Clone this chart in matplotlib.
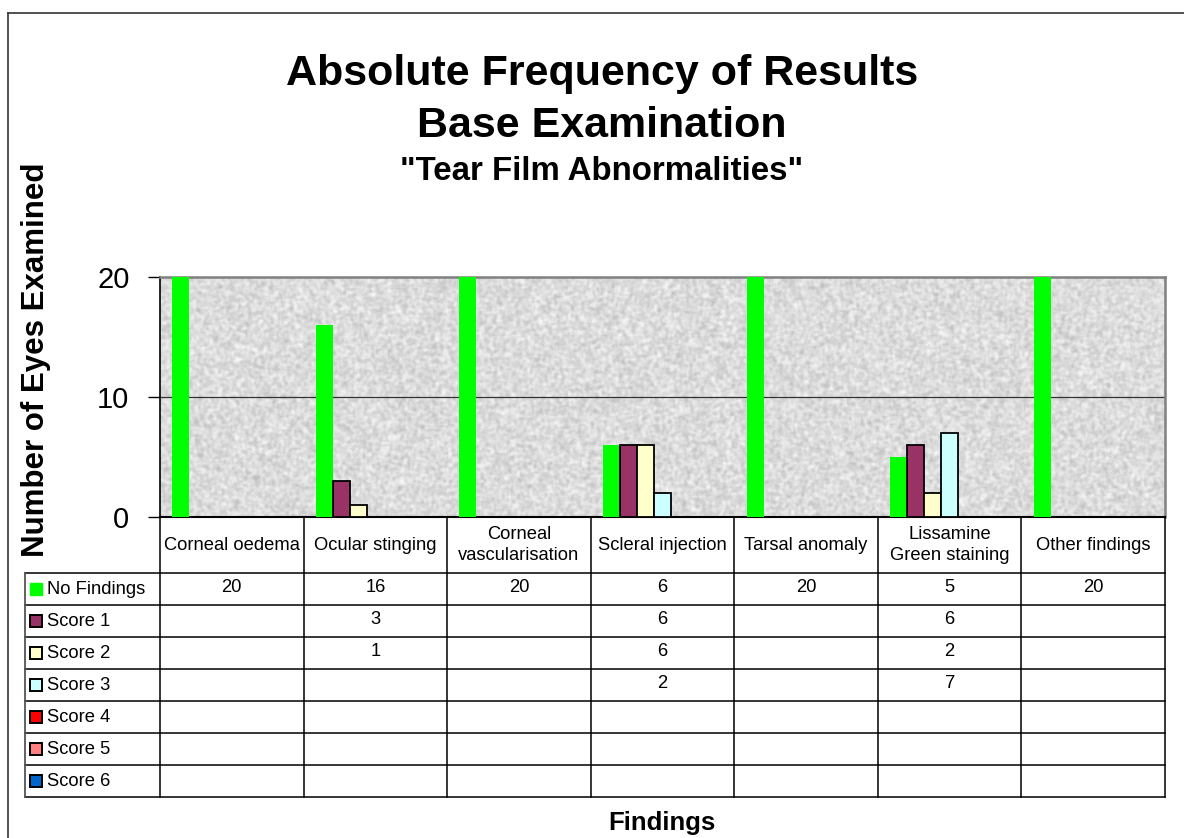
import matplotlib
matplotlib.use("Agg")
import matplotlib.pyplot as plt
import numpy as np
from matplotlib.lines import Line2D

plt.rcParams['font.family'] = ['Liberation Sans', 'DejaVu Sans']

# data
findings = ["Corneal oedema", "Ocular stinging", "Corneal\nvascularisation",
            "Scleral injection", "Tarsal anomaly", "Lissamine\nGreen staining",
            "Other findings"]
series_names = ["No Findings", "Score 1", "Score 2", "Score 3", "Score 4", "Score 5", "Score 6"]
no_findings = [20, 16, 20, 6, 20, 5, 20]
score1 = [0, 3, 0, 6, 0, 6, 0]
score2 = [0, 1, 0, 6, 0, 2, 0]
score3 = [0, 0, 0, 2, 0, 7, 0]
score4 = [0, 0, 0, 0, 0, 0, 0]
score5 = [0, 0, 0, 0, 0, 0, 0]
score6 = [0, 0, 0, 0, 0, 0, 0]
colors = ["#00FF00", "#993366", "#FFFFCC", "#CCFFFF", "#FF0000", "#FF8080", "#0066CC"]
yticks = [0, 10, 20]

series = [no_findings, score1, score2, score3, score4, score5, score6]

W, H = 1184, 838
fig = plt.figure(figsize=(W / 100, H / 100), dpi=100)


def px(x0, y0, x1, y1):
    return [x0 / W, 1 - y1 / H, (x1 - x0) / W, (y1 - y0) / H]


# outer frame
fig.add_artist(Line2D([8 / W, 8 / W], [1 - 13 / H, 0], color="#333333", lw=1.2))
fig.add_artist(Line2D([8 / W, 1], [1 - 13 / H, 1 - 13 / H], color="#333333", lw=1.2))

# ---- bar chart ----
ax = fig.add_axes(px(160, 277, 1165, 517))
ncat = len(findings)
ax.set_xlim(-0.5, ncat - 0.5)
ax.set_ylim(0, 20)

# granite background
rng = np.random.default_rng(7)
tex = rng.random((160, 670))
tex = (tex + np.roll(tex, 1, 0) + np.roll(tex, 1, 1) + np.roll(tex, -1, 0) + np.roll(tex, -1, 1)) / 5
ax.imshow(tex, extent=(-0.5, ncat - 0.5, 0, 20), aspect="auto", cmap="gray",
          vmin=-2.3, vmax=0.95, interpolation="bilinear", zorder=0)

bw = 17 / 143.57
x = np.arange(ncat)
for i, (vals, col) in enumerate(zip(series, colors)):
    vals = np.array(vals, dtype=float)
    keep = vals > 0
    if not keep.any():
        continue
    if i == 0:
        ax.bar(x[keep] + (i - 3) * bw, vals[keep], bw, color=col, lw=0, zorder=3)
    else:
        ax.bar(x[keep] + (i - 3) * bw, vals[keep], bw, color=col, edgecolor="black",
               lw=1.3, zorder=3)

ax.axhline(10, color="#333333", lw=0.9, zorder=2)
ax.set_yticks(yticks)
ax.set_yticklabels([str(t) for t in yticks], fontsize=21)
ax.tick_params(axis="y", length=9, width=1, pad=13, direction="out")
ax.set_xticks([])
for s in ["top", "right"]:
    ax.spines[s].set_color("#808080")
    ax.spines[s].set_linewidth(1.8)
ax.spines["left"].set_linewidth(1.2)
ax.spines["bottom"].set_linewidth(1.5)

# ---- data table ----
tb = fig.add_axes(px(25, 517, 1165, 797))
L = 135 / 143.57
hdr = 1.75
nrow = len(series)
tb.set_xlim(-0.5 - L, ncat - 0.5)
tb.set_ylim(hdr + nrow, 0)
tb.axis("off")

for r in range(nrow + 1):
    tb.plot([-0.5 - L, ncat - 0.5], [hdr + r, hdr + r], color="black", lw=1.1, clip_on=False)
for k in range(ncat + 1):
    tb.plot([k - 0.5, k - 0.5], [0, hdr + nrow], color="black", lw=1.1, clip_on=False)
tb.plot([-0.5 - L, -0.5 - L], [hdr, hdr + nrow], color="#555555", lw=1.3, clip_on=False)

fs = 13.2
for j, name in enumerate(findings):
    tb.text(j, hdr / 2, name, ha="center", va="center", fontsize=fs, linespacing=1.35)

sq_x = -0.5 - L + 10.5 / 143.57
txt_x = -0.5 - L + 22 / 143.57
for i, (vals, col, nm) in enumerate(zip(series, colors, series_names)):
    yc = hdr + i + 0.5
    if i == 0:
        tb.plot([sq_x], [yc], marker="s", ms=9, color=col, mec=col, clip_on=False)
    else:
        tb.plot([sq_x], [yc], marker="s", ms=9, color=col, mec="black", mew=1.4, clip_on=False)
    tb.text(txt_x, yc + 0.03, nm, ha="left", va="center", fontsize=fs)
    for j, v in enumerate(vals):
        if v:
            tb.text(j, yc - 0.05, str(v), ha="center", va="center", fontsize=fs)

# ---- titles ----
fig.text(602 / W, 1 - 85 / H, "Absolute Frequency of Results", ha="center", va="baseline",
         fontsize=31, fontweight="bold")
fig.text(602 / W, 1 - 137 / H, "Base Examination", ha="center", va="baseline",
         fontsize=31, fontweight="bold")
fig.text(602 / W, 1 - 180 / H, "\"Tear Film Abnormalities\"", ha="center", va="baseline",
         fontsize=23.8, fontweight="bold")
fig.text(36 / W, 1 - 360 / H, "Number of Eyes Examined", rotation=90, ha="center",
         va="center", fontsize=22.5, fontweight="bold")
fig.text(662 / W, 1 - 823 / H, "Findings", ha="center", va="center", fontsize=18.5,
         fontweight="bold")

fig.savefig("out.png", dpi=100)
